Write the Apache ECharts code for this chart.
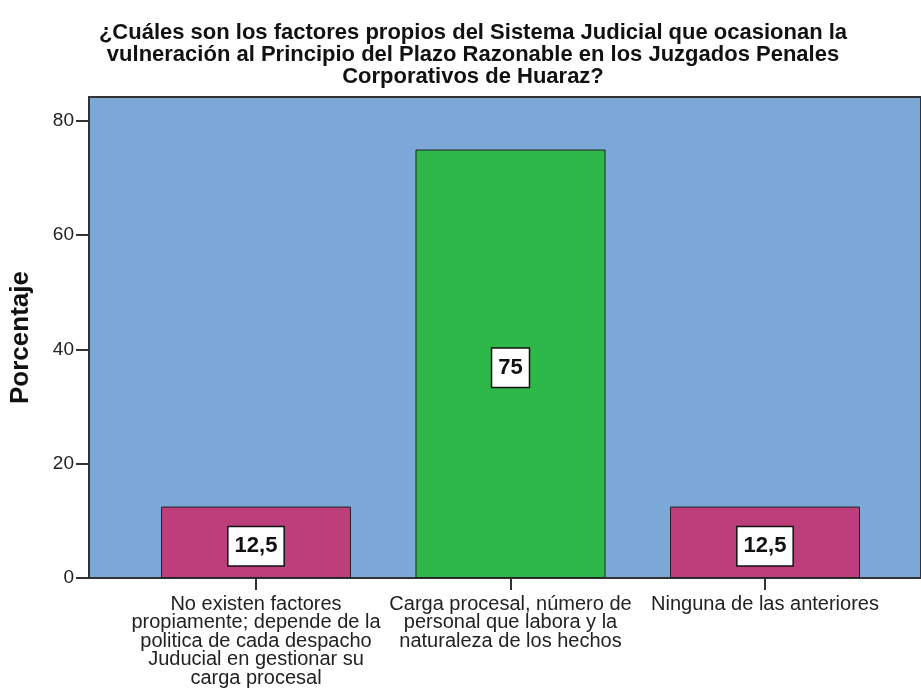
<!DOCTYPE html>
<html>
<head>
<meta charset="utf-8">
<script src="https://cdn.jsdelivr.net/npm/echarts@6/dist/echarts.min.js"></script>
<style>
  html, body { margin: 0; padding: 0; background: #fff; }
  #chart { width: 921px; height: 689px; }
</style>
</head>
<body>
<div id="chart"></div>
<script>
// datos
var categorias = [
  'No existen factores\npropiamente; depende de la\npolitica de cada despacho\nJuducial en gestionar su\ncarga procesal',
  'Carga procesal, número de\npersonal que labora y la\nnaturaleza de los hechos',
  'Ninguna de las anteriores'
]
var porcentajes = [12.5, 75, 12.5]
var ticksY = [0, 20, 40, 60, 80]

var titulo = '¿Cuáles son los factores propios del Sistema Judicial que ocasionan la\n' +
  'vulneración al Principio del Plazo Razonable en los Juzgados Penales\n' +
  'Corporativos de Huaraz?'

var coloresBarra = ['#bc3f7c', '#2fb84a', '#bc3f7c']
var yMax = 84.2
var fuente = 'Liberation Sans, Arial, sans-serif'

var chart = echarts.init(document.getElementById('chart'))

var option = {
  animation: false,
  textStyle: {fontFamily: fuente},
  title: {
    text: titulo,
    left: 468,
    textAlign: 'center',
    top: 17,
    textStyle: {
      fontSize: 22,
      fontWeight: 'bold',
      lineHeight: 22,
      color: '#111',
      fontFamily: fuente
    }
  },
  grid: [
    // fondo del area de trazado
    {
      left: 88, top: 97, width: 860, bottom: 111,
      show: true,
      backgroundColor: '#7ba8d6',
      borderColor: '#333',
      borderWidth: 2
    },
    // grid para las barras
    {left: 128.75, top: 97, width: 763.5, bottom: 111}
  ],
  xAxis: [
    {gridIndex: 0, type: 'value', show: false},
    {
      gridIndex: 1,
      type: 'category',
      data: categorias,
      boundaryGap: true,
      axisLine: {show: false},
      axisTick: {show: true, alignWithLabel: true, length: 12, lineStyle: {color: '#333', width: 2}},
      axisLabel: {
        interval: 0,
        margin: 17,
        fontSize: 20,
        lineHeight: 18.5,
        color: '#222',
        fontFamily: fuente
      }
    }
  ],
  yAxis: [
    {
      gridIndex: 0,
      type: 'value',
      min: 0,
      max: yMax,
      name: 'Porcentaje',
      nameLocation: 'middle',
      nameGap: 55,
      nameTextStyle: {fontSize: 26, fontWeight: 'bold', color: '#111', fontFamily: fuente},
      splitLine: {show: false},
      axisLine: {show: true, lineStyle: {color: '#333', width: 2}},
      axisTick: {show: true, length: 13, customValues: ticksY, lineStyle: {color: '#333', width: 2}},
      axisLabel: {
        customValues: ticksY,
        margin: 15,
        fontSize: 19,
        color: '#222',
        fontFamily: fuente
      }
    },
    {gridIndex: 1, type: 'value', min: 0, max: yMax, show: false}
  ],
  series: [
    {
      type: 'bar',
      xAxisIndex: 1,
      yAxisIndex: 1,
      barWidth: 190,
      data: porcentajes.map(function (v, i) {
        return {value: v, itemStyle: {color: coloresBarra[i]}}
      }),
      itemStyle: {borderColor: '#222', borderWidth: 1},
      label: {
        show: true,
        position: 'inside',
        offset: [0, 4],
        formatter: function (p) {
          return String(p.value).replace('.', ',')
        },
        backgroundColor: '#fff',
        borderColor: '#111',
        borderWidth: 1.5,
        padding: [8, 6],
        fontSize: 22,
        fontWeight: 'bold',
        color: '#111',
        fontFamily: fuente
      }
    }
  ]
}

chart.setOption(option)
</script>
</body>
</html>
